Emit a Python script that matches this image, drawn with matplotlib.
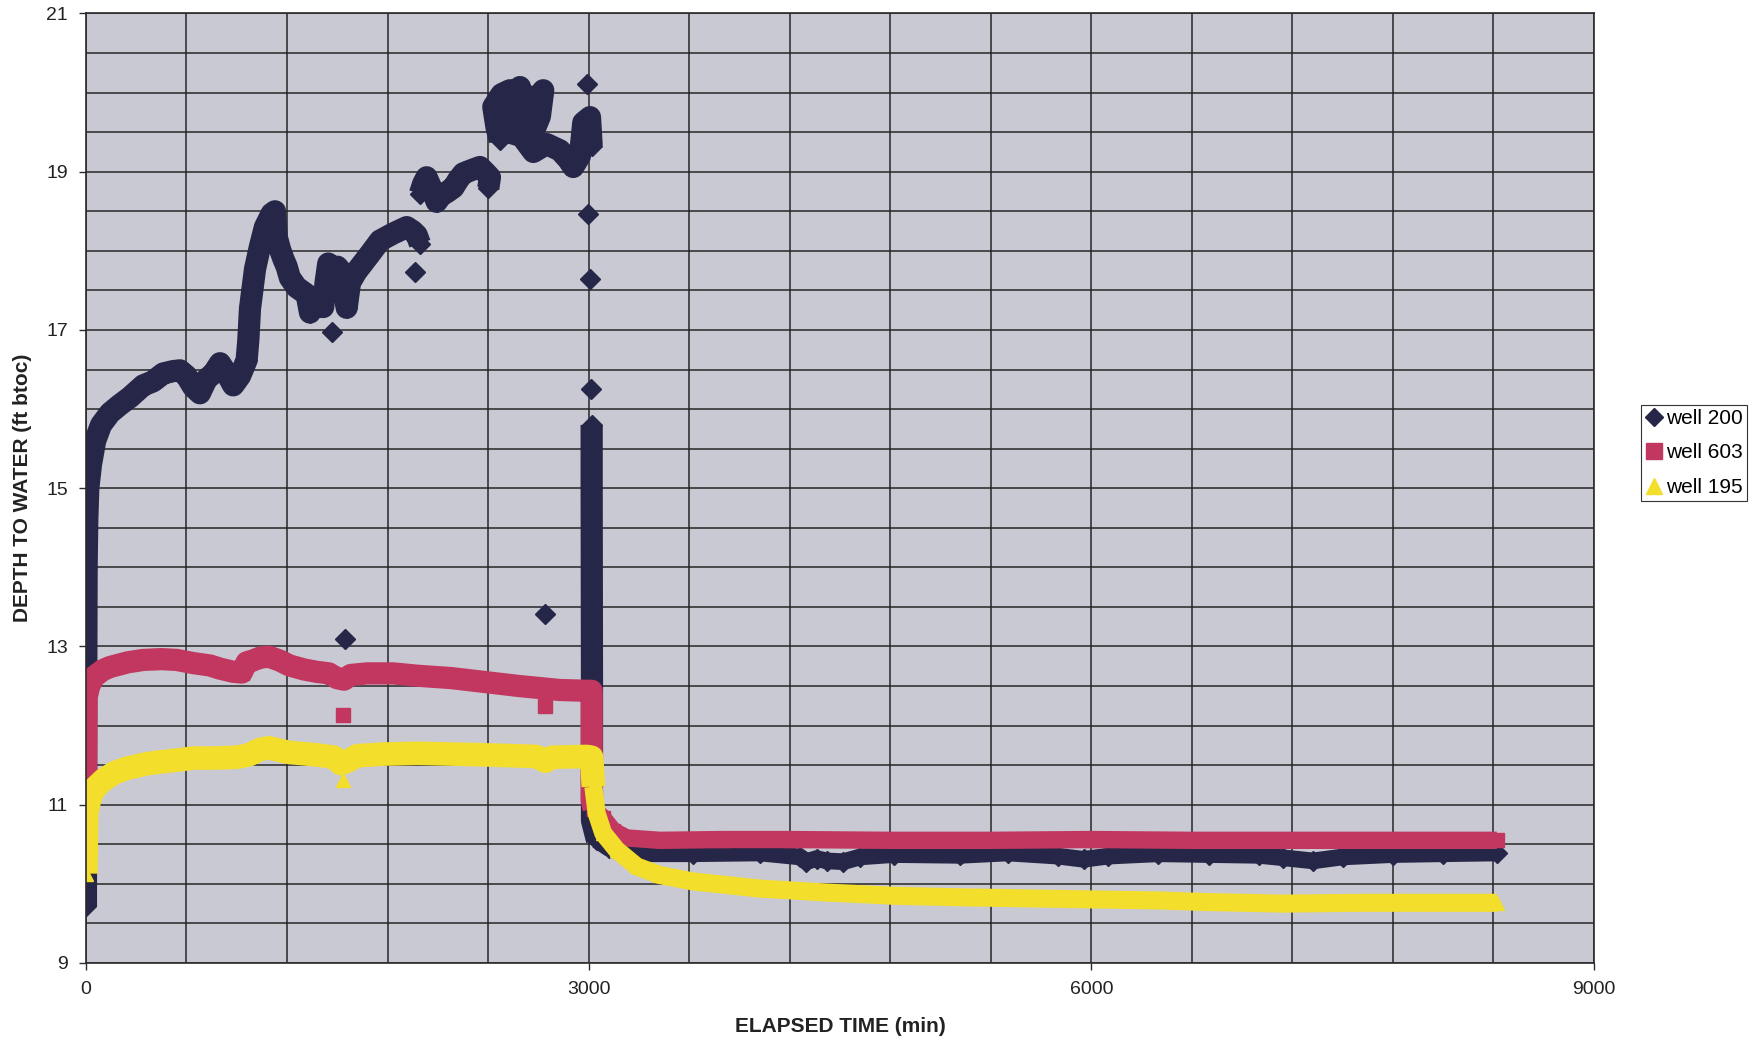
import numpy as np
import matplotlib.pyplot as plt
from matplotlib.ticker import MultipleLocator
from matplotlib.lines import Line2D

plt.rcParams['font.family'] = ['Liberation Sans', 'DejaVu Sans']

nan = np.nan

# well 200: logger readings, nan marks a break between stretches
w200_time = [0, 0, 2, 4, 8, 14, 30, 55, 90, 143, 200, 263, 342, 400, 461, 520, 561, 600,
             640, 680, 720, 760, 800, 840, 879, 920, 959, 969, 979, 1009, 1038, 1068, 1108,
             1128, 1138, 1158, 1178, 1198, 1217, 1257, 1317, 1337, 1357, 1416, 1430, 1446,
             1476, 1500, 1520, 1546, 1556, 1576, 1615, 1655, 1695, 1755, 1834, 1914, 1950,
             1974, 1993, nan,
             1993, 2013, 2033, 2060, 2093, 2120, 2153, 2193, 2222, 2252, 2300, 2351, 2380,
             2411, 2401, nan,
             2471, 2451, 2431, 2480, 2530, 2560, 2590, 2620, 2650, 2690, 2729, 2709, 2680,
             2650, 2610, 2550, 2520, 2600, 2670, 2749, 2829, 2880, 2908, 2948, 2968, 3008,
             3018, nan,
             3018, 3018, 3020, 3020, 3050, 3120, 3228, 3625, 4020, 4262, 4300, 4360, 4420,
             4520, 4620, 4820, 5216, 5500, 5800, 5954, 6100, 6400, 6700, 7000, 7143, 7323,
             7500, 7800, 8100, 8420]
w200_depth = [9.72, 9.95, 12.6, 14.0, 14.6, 15.0, 15.3, 15.6, 15.8, 15.95, 16.05, 16.15,
              16.3, 16.35, 16.45, 16.48, 16.49, 16.42, 16.28, 16.2, 16.38, 16.45, 16.58,
              16.45, 16.3, 16.42, 16.62, 16.87, 17.27, 17.77, 18.05, 18.3, 18.47, 18.5,
              18.18, 18.02, 17.9, 17.8, 17.66, 17.54, 17.45, 17.22, 17.3, 17.29, 17.6, 17.84,
              17.63, 17.8, 17.75, 17.45, 17.28, 17.6, 17.74, 17.85, 17.96, 18.13, 18.22,
              18.3, 18.25, 18.2, 18.09, nan,
              18.72, 18.85, 18.93, 18.8, 18.62, 18.7, 18.74, 18.8, 18.9, 18.98, 19.02, 19.06,
              19.0, 18.93, 18.79, nan,
              19.40, 19.55, 19.82, 19.98, 20.03, 19.75, 20.07, 19.8, 19.95, 19.92, 20.03,
              19.7, 19.55, 19.48, 19.62, 19.69, 19.5, 19.45, 19.25, 19.35, 19.27, 19.15,
              19.06, 19.2, 19.62, 19.69, 19.33, nan,
              15.8, 15.0, 12.5, 10.8, 10.55, 10.45, 10.38, 10.38, 10.39, 10.34, 10.28, 10.32,
              10.29, 10.28, 10.34, 10.37, 10.36, 10.39, 10.35, 10.31, 10.35, 10.38, 10.37,
              10.36, 10.33, 10.29, 10.34, 10.37, 10.38, 10.39]
w200_odd_time = [1466, 1963, 1547, 2742, 2988, 2998, 3008, 3012]
w200_odd_depth = [16.97, 17.73, 13.09, 13.41, 20.11, 18.47, 17.65, 16.26]

# well 603
w603_time = [0, 2, 4, 20, 44, 100, 143, 250, 342, 450, 541, 640, 740, 800, 879, 930, 959,
             993, 1040, 1093, 1158, 1215, 1300, 1376, 1450, 1497, 1540, 1580, 1678, 1834,
             1980, 2182, 2384, 2585, 2827, 2989, 3018, 3018, 3030, 3087, 3147, 3227, 3425,
             3800, 4200, 4800, 5400, 6000, 6600, 7200, 7800, 8420]
w603_depth = [10.8, 11.6, 12.36, 12.5, 12.61, 12.7, 12.74, 12.8, 12.83, 12.84, 12.83, 12.79,
              12.76, 12.72, 12.68, 12.67, 12.8, 12.82, 12.86, 12.87, 12.82, 12.76, 12.71,
              12.68, 12.66, 12.6, 12.58, 12.64, 12.66, 12.66, 12.63, 12.6, 12.55, 12.5, 12.45,
              12.44, 12.44, 11.06, 10.95, 10.83, 10.67, 10.58, 10.55, 10.56, 10.56, 10.55,
              10.55, 10.56, 10.55, 10.55, 10.55, 10.55]
w603_odd_time = [1537, 2742]
w603_odd_depth = [12.13, 12.25]

# well 195
w195_time = [0, 2, 4, 20, 44, 103, 166, 243, 367, 442, 569, 640, 770, 900, 972, 1040, 1093,
             1150, 1215, 1376, 1480, 1520, 1560, 1620, 1778, 1980, 2384, 2686, 2742, 2780,
             2989, 3018, 3028, 3048, 3087, 3167, 3287, 3426, 3624, 4022, 4420, 4818, 5216,
             5800, 6400, 6684, 7143, 7600, 8000, 8420]
w195_depth = [10.13, 10.5, 10.89, 11.05, 11.19, 11.31, 11.4, 11.46, 11.52, 11.54, 11.57,
              11.59, 11.59, 11.6, 11.63, 11.7, 11.72, 11.69, 11.66, 11.63, 11.6, 11.52, 11.55,
              11.62, 11.64, 11.65, 11.63, 11.61, 11.55, 11.6, 11.61, 11.6, 11.23, 10.89,
              10.64, 10.43, 10.22, 10.11, 10.03, 9.94, 9.89, 9.85, 9.83, 9.81, 9.79, 9.77,
              9.75, 9.76, 9.76, 9.76]
w195_odd_time = [1537]
w195_odd_depth = [11.31]

x_ticks = [0, 3000, 6000, 9000]
y_ticks = [9, 11, 13, 15, 17, 19, 21]

c200 = '#262648'
c603 = '#c2375f'
c195 = '#f4de2c'

fig = plt.figure(figsize=(17.54, 10.45), dpi=100)
ax = fig.add_axes([0.049, 0.0785, 0.8598, 0.9086])
ax.set_facecolor('#c9c9d3')


def draw_well(t, d, split_at, color, marker, lw_pump, lw_rec):
    # pumping period is noisier, so its band of markers is wider than the recovery tail
    k = t.index(split_at)
    style = dict(color=color, marker=marker, ms=10,
                 solid_joinstyle='round', solid_capstyle='butt')
    ax.plot(t[:k + 1], d[:k + 1], lw=lw_pump, **style)
    ax.plot(t[k:], d[k:], lw=lw_rec, **style)


draw_well(w200_time, w200_depth, 3050, c200, 'D', 16, 12)
ax.plot(w200_odd_time, w200_odd_depth, ls='none', color=c200, marker='D', ms=10)

draw_well(w603_time, w603_depth, 3030, c603, 's', 16, 12.5)
ax.plot(w603_odd_time, w603_odd_depth, ls='none', color=c603, marker='s', ms=10.5)

draw_well(w195_time, w195_depth, 3028, c195, '^', 17, 13)
ax.plot(w195_odd_time, w195_odd_depth, ls='none', color=c195, marker='^', ms=10.5)

ax.set_xlim(0, 9000)
ax.set_ylim(9, 21)
ax.set_xticks(x_ticks)
ax.set_yticks(y_ticks)
ax.xaxis.set_minor_locator(MultipleLocator(600))
ax.yaxis.set_minor_locator(MultipleLocator(0.5))
ax.grid(True, which='both', color='#262626', lw=1.1)
ax.set_axisbelow(True)
ax.tick_params(which='major', length=5, width=1.0, color='#2b2b2b',
               labelsize=14, labelcolor='#222222', pad=8)
ax.tick_params(which='minor', length=0)
for s in ax.spines.values():
    s.set_color('#2b2b2b')
    s.set_linewidth(1.2)

ax.set_xlabel('ELAPSED TIME (min)', fontsize=15, fontweight='bold', color='#222222')
ax.set_ylabel('DEPTH TO WATER (ft btoc)', fontsize=15, fontweight='bold', color='#222222')
ax.xaxis.set_label_coords(0.5, -0.057)
ax.yaxis.set_label_coords(-0.036, 0.5)

handles = [
    Line2D([], [], ls='none', marker='D', ms=9, color=c200),
    Line2D([], [], ls='none', marker='s', ms=11, color=c603),
    Line2D([], [], ls='none', marker='^', ms=12, color=c195),
]
leg = fig.legend(handles, ['well 200', 'well 603', 'well 195'],
                 loc='center left', bbox_to_anchor=(1641 / 1754, 1 - 453 / 1045),
                 fontsize=15, frameon=True, fancybox=False, framealpha=1,
                 edgecolor='#333333', handlelength=0.8, handletextpad=0.2,
                 borderpad=0.2, labelspacing=0.75, borderaxespad=0)
leg.get_frame().set_linewidth(0.8)

fig.savefig('out.png', dpi=100)
